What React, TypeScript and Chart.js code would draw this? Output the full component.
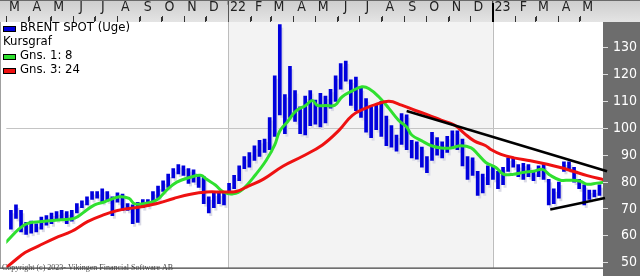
import React, { useEffect, useRef } from "react";
import { Chart, registerables } from "chart.js";

Chart.register(...registerables);

// ---- data ----
const firstWeek = "2021-03-01";
const weekLows = [
  62.5, 66.5, 61.5, 60.5, 61, 61.5, 62.5, 64, 64.5, 66, 66, 64.5, 65.5, 68.5, 70.5, 71.5, 73.5, 74, 72.5, 73,
  67.5, 72.5, 69.5, 69.5, 64.5, 65, 70.5, 71, 72.5, 74, 76.5, 78, 81.5, 83, 82.5, 79.5, 80, 78, 72, 68.5,
  70.5, 72, 71.5, 76, 77.5, 80.5, 85, 85.5, 88, 89.5, 91, 92, 97, 105, 98, 104, 102.5, 98, 97.5, 101,
  101.5, 100.5, 102, 107.5, 110, 114.5, 117.5, 108.5, 106.5, 104, 98.5, 96.5, 99.5, 97, 93.5, 93, 91.5, 94, 92, 89,
  88.5, 85.5, 83.5, 88, 90, 89, 91, 93, 92, 86, 81, 82.5, 75, 76, 79, 81, 77.5, 79, 84, 85.5,
  82, 81, 82, 80.5, 82, 81, 71.5, 72, 74, 84, 84.5, 80, 77.5, 71.5, 73.5, 74.5, 75,
];
const weekHighs = [
  69.5, 71.5, 69.5, 65, 65.5, 64.5, 67, 67.5, 68.5, 69, 69.5, 69, 69.5, 72, 73, 74.5, 76.5, 76.5, 77.5, 76.5,
  74.5, 76, 75.5, 72, 71.5, 72.5, 73.5, 73.5, 76.5, 78.5, 80.5, 83, 85, 86.5, 86, 85, 84.5, 82.5, 82, 74.5,
  76, 76, 76.5, 79.5, 82.5, 86, 89.5, 91, 93.5, 95.5, 96, 104, 119.5, 138.5, 112.5, 123, 114, 108, 112, 114,
  110.5, 113, 112, 114.5, 119.5, 124, 125, 118, 119, 115, 111, 108, 108.5, 110, 104.5, 101, 97.5, 105.5, 105, 95.5,
  95, 93, 89.5, 98.5, 96.5, 95, 97, 99, 99, 96, 89.5, 89, 84, 83, 86, 86, 84, 85.5, 89, 89,
  86.5, 87, 86.5, 84, 86, 86.5, 81, 77.5, 80, 87.5, 87.5, 85.5, 81, 79, 77, 77, 79,
];
const ma8Weeks = [
  -1.1, 2.8, 6.1, 10, 12.6, 14.5, 16.5, 18.4, 21.4, 23.3, 24.3, 26.3, 28.8, 30.7, 32.7, 35.4, 37.4, 38.6, 40.3, 41.9,
  43.8, 45.8, 48.3, 50.3, 52, 53, 54.6, 56.1, 58.1, 59.4, 60.4, 62, 63.8, 65.3, 67.3, 69.2, 70.6, 72.5, 74.5, 76.4,
  78, 79, 81, 82.9, 84.8, 86.8, 88.7, 90.7, 92.1, 93.6, 95.6, 97.1, 99.1, 101.1, 103, 104.8, 106.3, 108.3, 110.2, 112.2,
  113.6, 115.5, 117.1,
];
const ma8Values = [
  57.4, 64.2, 65.3, 66, 66.6, 69, 71.5, 72.6, 74.5, 73.9, 72, 72, 73.4, 77, 80, 81.8, 82.5, 81, 78.9, 76.3,
  75.6, 77.5, 82.9, 88, 93.8, 99, 102.6, 106.3, 108.5, 110.3, 108.5, 108.5, 108.5, 111.7, 113.9, 115.4, 114.7, 111.7, 107.4, 103,
  100.5, 97.5, 95.3, 93.5, 92.7, 92.7, 93.5, 92.7, 90.2, 87.3, 85.4, 82.9, 82.9, 83.6, 84, 84.7, 82.5, 80.7, 80.7, 80.3,
  79.2, 79.6, 80,
];
const ma24Weeks = [
  -1.1, 0.3, 2.8, 5.4, 8.7, 12, 15.1, 18.4, 21, 23.3, 25.7, 28.8, 32.1, 35.4, 38.6, 41.9, 44.4, 46.8, 49.7, 53.6,
  57.5, 61.4, 64.7, 67.3, 70.2, 71.8, 74.5, 77, 79.6, 82.3, 84.8, 87.4, 89.3, 91.3, 93.6, 94.6, 96.6, 99.1, 102.4, 105.7,
  108.3, 110.8, 113.6, 116.1, 117.1,
];
const ma24Values = [
  48, 50.1, 53.8, 56.2, 59.2, 61.7, 65.3, 67.9, 69.4, 70.2, 70.8, 72, 73.9, 75.5, 76.3, 76.3, 76.5, 78.5, 81, 85.9,
  89.6, 93.8, 99.3, 104.8, 107.7, 108.8, 110, 108.6, 106.7, 104.9, 103, 101.2, 98.2, 95.3, 93.5, 92.1, 90.3, 89, 87.9, 86.6,
  85.4, 84, 82.4, 81.2, 80.8,
];
const upperTrendWeeks = [78, 117.5];
const upperTrendValues = [106.4, 84];
const lowerTrendWeeks = [106.3, 117.1];
const lowerTrendValues = [69.8, 74.1];

const monthStarts = [
  "2021-03-01", "2021-04-01", "2021-05-01", "2021-06-01", "2021-07-01", "2021-08-01", "2021-09-01", "2021-10-01",
  "2021-11-01", "2021-12-01", "2022-01-01", "2022-02-01", "2022-03-01", "2022-04-01", "2022-05-01", "2022-06-01",
  "2022-07-01", "2022-08-01", "2022-09-01", "2022-10-01", "2022-11-01", "2022-12-01", "2023-01-01", "2023-02-01",
  "2023-03-01", "2023-04-01", "2023-05-01",
];
const monthLabels = [
  "M", "A", "M", "J", "J", "A", "S", "O", "N", "D", "'22", "F", "M", "A", "M", "J", "J", "A", "S", "O", "N", "D",
  "'23", "F", "M", "A", "M",
];
const yearStarts = ["2022-01-01", "2023-01-01"];
const shadedYear = ["2022-01-01", "2023-01-01"];
const yTickValues = [50, 60, 70, 80, 90, 100, 110, 120, 130];
const gridValue = 100;
const seriesName = "BRENT SPOT (Uge)";
const subTitle = "Kursgraf";
const ma8Name = "Gns. 1: 8";
const ma24Name = "Gns. 3: 24";
const copyright = "Copyright (c) 2023- Vikingen Financial Software AB";

const NARROW = '"Liberation Sans Narrow", "Arial Narrow", "DejaVu Sans Condensed", Arial, sans-serif';
const BLUE = "#0000dd";
const GREEN = "#2fe02f";
const RED = "#ee1111";

const DAY = 86400000;
const pos = (d: string) => (Date.parse(d + "T00:00:00Z") - Date.parse(firstWeek + "T00:00:00Z")) / (7 * DAY) - 0.88;

const decorPlugin = {
  id: "decor",
  beforeDraw(chart: any) {
    const { ctx, chartArea: a, scales } = chart;
    const x = scales.x;
    const W = chart.width, H = chart.height;
    ctx.save();
    ctx.fillStyle = "#ffffff";
    ctx.fillRect(0, 0, W, H);
    const g = ctx.createLinearGradient(0, 0, 0, a.top);
    g.addColorStop(0, "#cdcdcd");
    g.addColorStop(1, "#e4e4e4");
    ctx.fillStyle = g;
    ctx.fillRect(0, 0, W, a.top);
    ctx.fillStyle = "#6a6a6a";
    ctx.fillRect(0, 0, W, 1);
    ctx.fillStyle = "#6d6d6d";
    ctx.fillRect(a.right, a.top, W - a.right, H - a.top);
    // shaded year
    const s0 = x.getPixelForValue(pos(shadedYear[0]));
    const s1 = x.getPixelForValue(pos(shadedYear[1]));
    ctx.fillStyle = "#f3f3f3";
    ctx.fillRect(s0, a.top, s1 - s0, a.bottom - a.top);
    // year lines in plot
    ctx.strokeStyle = "#bdbdbd";
    ctx.lineWidth = 1;
    yearStarts.forEach((d) => {
      const px = Math.round(x.getPixelForValue(pos(d))) + 0.5;
      ctx.beginPath();
      ctx.moveTo(px, a.top);
      ctx.lineTo(px, a.bottom);
      ctx.stroke();
    });
    // left border
    ctx.strokeStyle = "#a0a0a0";
    ctx.beginPath();
    ctx.moveTo(0.5, a.top);
    ctx.lineTo(0.5, a.bottom);
    ctx.stroke();
    ctx.restore();
  },
  beforeDatasetsDraw(chart: any) {
    const { ctx } = chart;
    const idx = chart.data.datasets.findIndex((d: any) => d.type === "bar");
    const meta = chart.getDatasetMeta(idx);
    ctx.save();
    ctx.fillStyle = "#dadae6";
    meta.data.forEach((el: any) => {
      const p = el.getProps(["x", "y", "base", "width"], true);
      const top = Math.min(p.y, p.base);
      const bot = Math.max(p.y, p.base);
      ctx.fillRect(p.x - p.width / 2 + 2, top + 3, p.width, bot - top);
    });
    ctx.restore();
  },
  afterDraw(chart: any) {
    const { ctx, chartArea: a, scales } = chart;
    const x = scales.x;
    ctx.save();
    // month tick marks in header
    ctx.fillStyle = "#333";
    x.ticks.forEach((t: any) => {
      const px = Math.round(x.getPixelForValue(t.value));
      ctx.fillRect(px, a.top - 6, 1, 5);
    });
    // header year markers
    yearStarts.forEach((d, i) => {
      const px = Math.round(x.getPixelForValue(pos(d)));
      if (i === yearStarts.length - 1) {
        ctx.fillStyle = "#000";
        ctx.fillRect(px - 1, 3, 2, a.top - 3);
      } else {
        ctx.fillStyle = "#555";
        ctx.fillRect(px, 4, 1, a.top - 4);
      }
    });
    // bottom line
    ctx.fillStyle = "#111";
    ctx.fillRect(0, a.bottom, a.right, 1);
    // legend
    ctx.font = "13px " + NARROW;
    ctx.textBaseline = "middle";
    ctx.fillStyle = "#000";
    const rows = [
      { c: BLUE, t: seriesName },
      { c: null, t: subTitle },
      { c: GREEN, t: ma8Name },
      { c: RED, t: ma24Name },
    ];
    rows.forEach((r, i) => {
      const cy = 28 + i * 14;
      if (r.c) {
        ctx.fillStyle = r.c;
        ctx.fillRect(3, cy - 2, 13, 6);
        ctx.strokeStyle = "#000";
        ctx.lineWidth = 1;
        ctx.strokeRect(3.5, cy - 1.5, 12, 5);
        ctx.fillStyle = "#000";
        ctx.fillText(r.t, 20, cy);
      } else {
        ctx.fillStyle = "#000";
        ctx.fillText(r.t, 3, cy);
      }
    });
    // copyright
    ctx.font = '8px "Liberation Serif", "Times New Roman", serif';
    ctx.fillStyle = "#444";
    ctx.textBaseline = "alphabetic";
    ctx.fillText(copyright, 2, 270);
    ctx.restore();
  },
};

export default function App() {
  const ref = useRef<HTMLCanvasElement | null>(null);
  useEffect(() => {
    document.body.style.margin = "0";
    const canvas = ref.current!;
    const bars = weekLows.map((lo, i) => ({ x: i, y: [lo, weekHighs[i]] }));
    const ma8 = ma8Weeks.map((w, i) => ({ x: w, y: ma8Values[i] }));
    const ma24 = ma24Weeks.map((w, i) => ({ x: w, y: ma24Values[i] }));
    const up = upperTrendWeeks.map((w, i) => ({ x: w, y: upperTrendValues[i] }));
    const low = lowerTrendWeeks.map((w, i) => ({ x: w, y: lowerTrendValues[i] }));
    const chart = new Chart(canvas, {
      type: "bar",
      data: {
        datasets: [
          { type: "line", data: up, borderColor: "#000", borderWidth: 2.5, pointRadius: 0, order: 0, clip: false } as any,
          { type: "line", data: low, borderColor: "#000", borderWidth: 2.5, pointRadius: 0, order: 0, clip: false } as any,
          { type: "line", label: ma24Name, data: ma24, borderColor: RED, borderWidth: 3, pointRadius: 0, tension: 0.4, order: 1 } as any,
          { type: "line", label: ma8Name, data: ma8, borderColor: GREEN, borderWidth: 3, pointRadius: 0, tension: 0.4, order: 2 } as any,
          { type: "bar", label: seriesName, data: bars, backgroundColor: BLUE, barThickness: 3, grouped: false, order: 5 } as any,
        ],
      },
      options: {
        animation: false,
        responsive: false,
        devicePixelRatio: 1,
        layout: { padding: { left: 1, right: 3, top: 0, bottom: 4 } },
        plugins: { legend: { display: false }, tooltip: { enabled: false } },
        scales: {
          x: {
            type: "linear",
            position: "top",
            min: -0.9,
            max: 116.7,
            offset: false,
            afterFit: (s: any) => { s.height = 22; },
            afterBuildTicks: (s: any) => { s.ticks = monthStarts.map((d) => ({ value: pos(d) })); },
            ticks: {
              callback: (_v: any, i: number) => monthLabels[i],
              labelOffset: 8,
              maxRotation: 0,
              autoSkip: false,
              color: "#222",
              font: { family: NARROW, size: 14 },
              padding: 1,
            },
            grid: { drawOnChartArea: false, tickLength: 5, tickColor: "#333", offset: false },
            border: { display: false },
          },
          y: {
            type: "linear",
            position: "right",
            min: 48.2,
            max: 139.5,
            afterFit: (s: any) => { s.width = 34; },
            afterBuildTicks: (s: any) => { s.ticks = yTickValues.map((v) => ({ value: v })); },
            ticks: { color: "#fff", crossAlign: "far", font: { family: NARROW, size: 14 }, padding: 0 },
            grid: {
              color: (c: any) => (c.tick && c.tick.value === gridValue ? "#c4c4c4" : "rgba(0,0,0,0)"),
              tickColor: "#dddddd",
              tickLength: 5,
            },
            border: { display: false },
          },
        },
      } as any,
      plugins: [decorPlugin],
    });
    return () => chart.destroy();
  }, []);
  return <canvas ref={ref} width={640} height={276} style={{ display: "block" }} />;
}
